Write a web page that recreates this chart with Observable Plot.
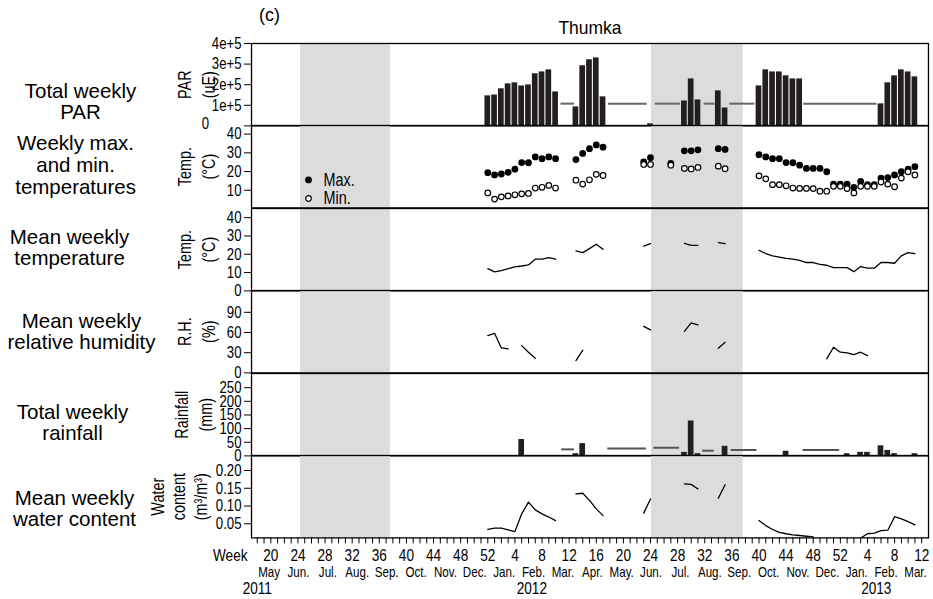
<!DOCTYPE html>
<html><head><meta charset="utf-8">
<script src="https://cdn.jsdelivr.net/npm/d3@7"></script>
<script src="https://cdn.jsdelivr.net/npm/@observablehq/plot@0.6"></script>
<style>
body{margin:0;background:#fff;}
#chart{position:relative;width:933px;height:599px;overflow:hidden;background:#fff;}
#chart svg{display:block;overflow:visible;background:transparent;}
</style></head><body><div id="chart"></div>
<script>
// continuous week index: 2011 week w -> w, 2012 week w -> 52+w, 2013 week w -> 104+w
const week = [52,53,54,55,56,57,58,59,60,61,62,63,64,65,66,67,68,69,70,71,72,73,74,75,76,77,78,79,80,81,82,83,84,85,86,87,88,89,90,91,92,93,94,95,96,97,98,99,100,101,102,103,104,105,106,107,108,109,110,111,112,113,114,115];
const _ = null;
// Total weekly PAR (uE)
const par = [145800,150000,180000,204000,209000,194000,199000,253000,262000,272000,165000,_,_,92000,292000,321000,330000,141000,_,_,_,_,_,_,10000,_,_,_,_,121000,228000,126000,_,_,170000,87000,_,_,_,_,194000,272000,262000,262000,243000,228000,228000,_,_,_,_,_,_,_,_,_,_,_,107000,209000,243000,272000,262000,238000];
// Weekly max / min temperature (°C)
const tmax = [19.4,18.2,18.7,19.6,21.3,24.8,24.7,27.8,26.9,27.8,26.9,_,_,26.4,29.7,32.2,34.2,33.0,_,_,_,_,_,25.2,27.4,_,_,24.3,_,31.1,31.1,31.6,_,_,32.2,31.8,_,_,_,_,29.0,27.8,26.9,26.9,24.8,24.7,23.4,21.7,21.7,21.7,19.9,13.3,13.3,13.3,11.6,14.7,13.0,13.0,16.5,16.8,18.2,19.9,21.3,22.6];
const tmin = [8.6,5.3,6.5,7.0,7.6,8.1,8.3,11.2,11.6,12.6,11.2,_,_,15.4,13.3,15.6,18.5,17.9,_,_,_,_,_,23.8,23.8,_,_,23.4,_,21.7,21.4,22.2,_,_,22.9,21.5,_,_,_,_,17.7,16.1,13.0,13.0,12.4,11.2,11.0,11.0,10.9,9.5,9.5,12.1,12.1,10.9,8.6,12.1,12.1,12.1,14.4,13.3,11.9,16.5,19.9,18.2];
// Mean weekly temperature (°C)
const tmean = [12.2,10.4,11.1,12.2,13.1,13.6,14.2,17.3,17.3,18.2,17.3,_,_,21.8,20.9,23.1,25.5,22.7,_,_,_,_,_,24.5,25.8,_,_,_,_,26.0,24.9,24.9,_,_,26.4,25.8,_,_,_,_,22.2,20.4,19.1,18.5,17.8,17.3,16.7,15.5,15.5,14.5,14.0,12.7,12.7,12.7,10.5,13.3,12.4,12.4,15.5,15.5,15.1,19.1,20.9,20.4];
// Mean weekly relative humidity (%)
const rh = [55.4,58.8,37.1,35.6,_,40.5,30.7,21.8,_,_,_,_,_,18.3,33.6,_,_,_,_,_,_,_,_,69.2,63.8,_,_,_,_,61.8,74.2,71.2,_,_,36.6,45.5,_,_,_,_,_,_,_,_,_,_,_,_,_,_,20.8,38.1,30.7,29.7,27.2,30.7,25.7,_,_,_,_,_,_,_];
// Total weekly rainfall (mm)
const rain = [0,0,0,0,0,60,0,0,0,0,0,_,_,8,45,0,0,0,_,_,_,_,_,_,0,_,_,_,_,13,128,8,_,_,0,35,_,_,_,_,0,0,0,0,17,0,0,_,_,_,_,_,0,8,0,13,13,0,37,20,8,0,0,8];
// Mean weekly soil water content (m3/m3)
const water = [0.034,0.038,0.038,0.033,0.028,0.078,0.111,0.089,0.078,0.069,0.059,_,_,0.134,0.136,0.116,0.092,0.073,_,_,_,_,_,0.080,0.120,_,_,_,_,0.1625,0.161,0.148,_,_,0.122,0.160,_,_,_,_,0.059,0.045,0.034,0.026,0.022,0.019,0.017,0.015,0.013,_,_,_,_,_,_,0.010,0.022,0.024,0.031,0.032,0.070,0.064,0.056,0.047];
// mean value drawn over missing weeks
const parGapStart = [62.8,69.8,76.7,83.9,87.7,98.6];
const parGapEnd   = [64.8,75.5,80.4,85.5,91.4,109.4];
const parGapValue = [108000,108000,108000,108000,108000,108000];
const rainGapStart = [62.9,69.7,76.5,83.7,87.9,98.5];
const rainGapEnd   = [64.8,75.4,80.3,85.4,91.7,103.9];
const rainGapValue = [23.9,27.5,29.9,19.1,21.5,21.5];
// monsoon shading
const shadeStart = [24.38,76.15];
const shadeEnd = [37.65,89.67];
// axis labels
const weekLabelPos = [20,24,28,32,36,40,44,48,52,56,60,64,68,72,76,80,84,88,92,96,100,104,108,112,116];
const weekLabels = ["20","24","28","32","36","40","44","48","52","4","8","12","16","20","24","28","32","36","40","44","48","52","4","8","12"];
const monthNames = ["May","Jun.","Jul.","Aug.","Sep.","Oct.","Nov.","Dec.","Jan.","Feb.","Mar.","Apr.","May.","Jun.","Jul.","Aug.","Sep.","Oct.","Nov.","Dec.","Jan.","Feb.","Mar."];
const yearNames = ["2011","2012","2013"];
const yearPos = [18,58.5,109.3];

const CF = "Liberation Sans, Arial, sans-serif";            // condensed afterwards
const REG = '"Liberation Sans", Arial, Helvetica, sans-serif';
const XD = [17.15, 117];
const PH = 82.4;
const num = v => v == null ? NaN : v;
const rows = week.map((t,i) => ({t, par: par[i], tmax: tmax[i], tmin: tmin[i], tmean: num(tmean[i]), rh: num(rh[i]), rain: rain[i], water: num(water[i])}));
const monsoon = shadeStart.map((s,i) => ({x1: s, x2: shadeEnd[i]}));
const parGaps = parGapStart.map((s,i) => ({x1: s, x2: parGapEnd[i], v: parGapValue[i]}));
const rainGaps = rainGapStart.map((s,i) => ({x1: s, x2: rainGapEnd[i], v: rainGapValue[i]}));
const months = monthNames.map((name,i) => {
  const k = 4 + i, m = k % 12, yo = Math.floor(k/12)*52;
  return {name, pos: yo + 52*(m+0.5)/12 + 0.25};
});
const years = yearNames.map((name,i) => ({name, pos: yearPos[i]}));
const weekLabelMap = new Map(weekLabelPos.map((p,i) => [p, weekLabels[i]]));
const weekTicks = d3.range(18, 117);
const BAR = "#231f20";
const bw = 0.42;
const TXT = {text: d => d, lineAnchor: "middle"};
const svgs = [];

function panel(cfg) {
  const mt = cfg.mt || 0, mb = cfg.mb || 0;
  const svg = Plot.plot({
    width: 933, height: PH + mt + mb,
    marginLeft: 251, marginRight: 5, marginTop: mt, marginBottom: mb,
    x: {domain: XD, axis: null},
    y: {domain: cfg.yd, axis: null},
    style: {fontFamily: REG, fontSize: "16px", background: "transparent", overflow: "visible", color: "black"},
    marks: [
      Plot.rect(monsoon, {x1: "x1", x2: "x2", fill: "#dcdcde"}),
      ...cfg.marks,
      Plot.axisY({ticks: cfg.ticks, tickFormat: cfg.fmt, tickSize: 7, tickPadding: 3, fontSize: 16.5, fontFamily: CF, label: null}),
      Plot.frame({stroke: "black", strokeWidth: 1.3}),
      Plot.text([cfg.label], {...TXT, frameAnchor: "left", dx: cfg.lx - 251, dy: cfg.ly, fontSize: 20.5, fontFamily: REG, lineHeight: 1.05, textAnchor: "middle"}),
      Plot.text([cfg.title], {...TXT, frameAnchor: "left", dx: cfg.tx - 251, rotate: -90, fontSize: 18, fontFamily: CF, lineHeight: cfg.tlh || 1.3, textAnchor: "middle"}),
      ...(cfg.extra || [])
    ]
  });
  document.getElementById("chart").appendChild(svg);
  svgs.push(svg);
}

const parTickLabels = new Map([[1e5,"1e+5"],[2e5,"2e+5"],[3e5,"3e+5"],[4e5,"4e+5"]]);

// 1. PAR
panel({
  mt: 43, yd: [0, 4e5], ticks: [0,1e5,2e5,3e5,4e5], fmt: d => parTickLabels.get(d) || "",
  label: "Total weekly\nPAR", lx: 80, ly: 17, title: "PAR\n(uE)", tx: 195,
  marks: [
    Plot.rectY(rows.filter(d => d.par != null), {x1: d => d.t - bw, x2: d => d.t + bw, y: "par", fill: BAR}),
    Plot.ruleY(parGaps, {x1: "x1", x2: "x2", y: "v", stroke: "#666", strokeWidth: 2})
  ],
  extra: [
    Plot.text(["0"], {...TXT, frameAnchor: "bottom-left", dx: -46, dy: -2, textAnchor: "middle", fontSize: 16.5, fontFamily: CF}),
    Plot.text(["Thumka"], {...TXT, frameAnchor: "top", dy: -15, fontSize: 17.5, fontFamily: REG}),
    Plot.text(["(c)"], {...TXT, frameAnchor: "top-left", dx: 18, dy: -28, textAnchor: "middle", fontSize: 18, fontFamily: REG})
  ]
});

// 2. Max/min temperature
panel({
  yd: [0.6, 44.6], ticks: [10,20,30,40], fmt: d => String(d),
  label: "Weekly max.\nand min.\ntemperatures", lx: 75, ly: -1.6, title: "Temp.\n(°C)", tx: 195,
  marks: [
    Plot.dot(rows.filter(d => d.tmax != null), {x: "t", y: "tmax", r: 3.4, fill: "black"}),
    Plot.dot(rows.filter(d => d.tmin != null), {x: "t", y: "tmin", r: 2.8, fill: "white", stroke: "black", strokeWidth: 1.2})
  ],
  extra: [
    Plot.dot([0], {frameAnchor: "top-left", dx: 57, dy: 54.4, r: 3.4, fill: "black"}),
    Plot.dot([0], {frameAnchor: "top-left", dx: 57, dy: 73, r: 2.8, fill: "white", stroke: "black", strokeWidth: 1.2}),
    Plot.text(["Max."], {...TXT, frameAnchor: "top-left", dx: 72, dy: 54.4, textAnchor: "start", fontSize: 18, fontFamily: CF}),
    Plot.text(["Min."], {...TXT, frameAnchor: "top-left", dx: 72, dy: 73, textAnchor: "start", fontSize: 18, fontFamily: CF})
  ]
});

// 3. Mean temperature
panel({
  yd: [0, 45], ticks: [0,10,20,30,40], fmt: d => String(d),
  label: "Mean weekly\ntemperature", lx: 69, ly: -2.3, title: "Temp.\n(°C)", tx: 195,
  marks: [Plot.line(rows, {x: "t", y: "tmean", stroke: "black", strokeWidth: 1.3})]
});

// 4. Relative humidity
panel({
  yd: [0, 122.4], ticks: [0,30,60,90], fmt: d => String(d),
  label: "Mean weekly\nrelative humidity", lx: 81, ly: 0, title: "R.H.\n(%)", tx: 195,
  marks: [Plot.line(rows, {x: "t", y: "rh", stroke: "black", strokeWidth: 1.3})]
});

// 5. Rainfall
panel({
  yd: [0, 302], ticks: [0,50,100,150,200,250], fmt: d => String(d),
  label: "Total weekly\nrainfall", lx: 72, ly: 8, title: "Rainfall\n(mm)", tx: 192,
  marks: [
    Plot.rectY(rows.filter(d => d.rain != null && d.rain > 0), {x1: d => d.t - bw, x2: d => d.t + bw, y: "rain", fill: BAR}),
    Plot.ruleY(rainGaps, {x1: "x1", x2: "x2", y: "v", stroke: "#555", strokeWidth: 2})
  ]
});

// 6. Water content + x axis
panel({
  mb: 61.6, yd: [0.0103, 0.2422], ticks: [0.05,0.10,0.15,0.20], fmt: d => d.toFixed(2),
  label: "Mean weekly\nwater content", lx: 74, ly: 12, title: "Water\ncontent\n(m³/m³)", tx: 178, tlh: 1.2,
  marks: [Plot.line(rows, {x: "t", y: "water", stroke: "black", strokeWidth: 1.3, clip: true})],
  extra: [
    Plot.axisX({ticks: weekTicks, tickSize: 6, tickPadding: 5, tickFormat: d => weekLabelMap.get(d) || "", fontSize: 17, fontFamily: CF, label: null}),
    Plot.text(["Week"], {...TXT, frameAnchor: "bottom-left", dx: -4, dy: 17.6, textAnchor: "end", fontSize: 17, fontFamily: CF}),
    Plot.text(months, {x: "pos", text: "name", lineAnchor: "middle", frameAnchor: "bottom", dy: 34.3, fontSize: 14.5, fontFamily: CF}),
    Plot.text(years, {x: "pos", text: "name", lineAnchor: "middle", frameAnchor: "bottom", dy: 50.3, fontSize: 17, fontFamily: CF})
  ]
});

// condensed lettering (the original uses a narrow sans face)
const SQUEEZE = 0.8;
svgs.forEach(svg => {
  svg.querySelectorAll("g").forEach(g => {
    if (g.getAttribute("font-family") !== CF) return;
    g.querySelectorAll("text").forEach(el => {
      const spans = el.querySelectorAll("tspan");
      const targets = spans.length ? Array.from(spans) : [el];
      targets.forEach(s => {
        const L = s.getComputedTextLength();
        if (L > 0) {
          s.setAttribute("textLength", (L * SQUEEZE).toFixed(2));
          s.setAttribute("lengthAdjust", "spacingAndGlyphs");
        }
      });
    });
  });
});
</script></body></html>
